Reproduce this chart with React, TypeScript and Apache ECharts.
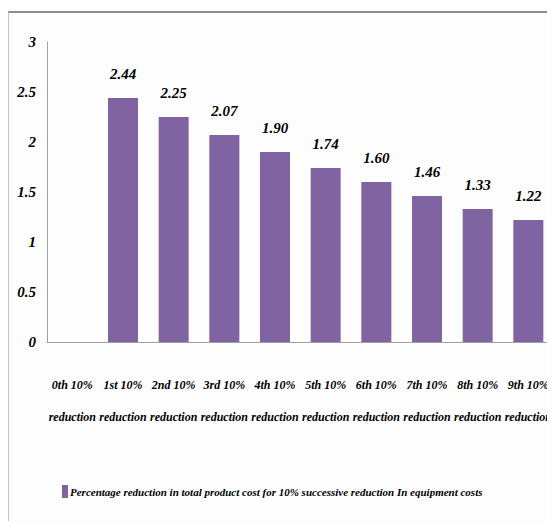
import React, { useEffect, useRef } from "react";
import * as echarts from "echarts";

const categories = [
  "0th 10%\nreduction",
  "1st 10%\nreduction",
  "2nd 10%\nreduction",
  "3rd 10%\nreduction",
  "4th 10%\nreduction",
  "5th 10%\nreduction",
  "6th 10%\nreduction",
  "7th 10%\nreduction",
  "8th 10%\nreduction",
  "9th 10%\nreduction",
];
const values = [0, 2.44, 2.25, 2.07, 1.9, 1.74, 1.6, 1.46, 1.33, 1.22];
const seriesName =
  "Percentage reduction in total product cost for 10% successive reduction In equipment costs";
const yMin = 0;
const yMax = 3;
const yInterval = 0.5;

const FONT = "Liberation Serif";
const W = 547;
const H = 515;

export default function App() {
  const ref = useRef<HTMLDivElement>(null);
  useEffect(() => {
    if (!ref.current) return;
    const chart = echarts.init(ref.current, undefined, { renderer: "svg" });
    chart.setOption({
      animation: false,
      backgroundColor: "#fdfdfd",
      textStyle: { fontFamily: FONT },
      graphic: [
        {
          type: "line",
          shape: { x1: 0, y1: 4, x2: W, y2: 4 },
          style: { stroke: "#8c8c8c", lineWidth: 2 },
          silent: true,
        },
        {
          type: "line",
          shape: { x1: 0.5, y1: 4, x2: 0.5, y2: 513 },
          style: { stroke: "#c4c4c4", lineWidth: 1 },
          silent: true,
        },
      ],
      grid: { left: 39, right: 1, top: 34, bottom: 181, containLabel: false },
      legend: {
        data: [seriesName],
        left: 49,
        top: 472,
        icon: "rect",
        itemWidth: 6,
        itemHeight: 13,
        itemGap: 2,
        textStyle: {
          fontFamily: FONT,
          fontStyle: "italic",
          fontWeight: "bold",
          fontSize: 11,
          color: "#000",
          padding: [0, 0, 0, -3],
        },
      },
      xAxis: {
        type: "category",
        data: categories,
        axisLine: { show: true, lineStyle: { color: "#a0a0a0", width: 1 } },
        axisTick: { show: false },
        axisLabel: {
          interval: 0,
          margin: 27,
          fontFamily: FONT,
          fontStyle: "italic",
          fontWeight: "bold",
          fontSize: 12,
          lineHeight: 32,
          color: "#000",
        },
      },
      yAxis: {
        type: "value",
        min: yMin,
        max: yMax,
        interval: yInterval,
        axisLine: { show: true, lineStyle: { color: "#a0a0a0", width: 1 } },
        axisTick: { show: false },
        splitLine: { show: false },
        axisLabel: {
          margin: 11,
          fontFamily: FONT,
          fontStyle: "italic",
          fontWeight: "bold",
          fontSize: 15,
          color: "#000",
          formatter: (v: number) => String(v),
        },
      },
      series: [
        {
          name: seriesName,
          type: "bar",
          data: values,
          barWidth: 30,
          itemStyle: { color: "#8064A2" },
          label: {
            show: true,
            position: "top",
            distance: 17,
            fontFamily: FONT,
            fontStyle: "italic",
            fontWeight: "bold",
            fontSize: 15,
            color: "#000",
            formatter: (p: any) => (p.value ? Number(p.value).toFixed(2) : ""),
          },
        },
      ],
    });
    return () => chart.dispose();
  }, []);
  return <div ref={ref} style={{ width: W, height: H }} />;
}
